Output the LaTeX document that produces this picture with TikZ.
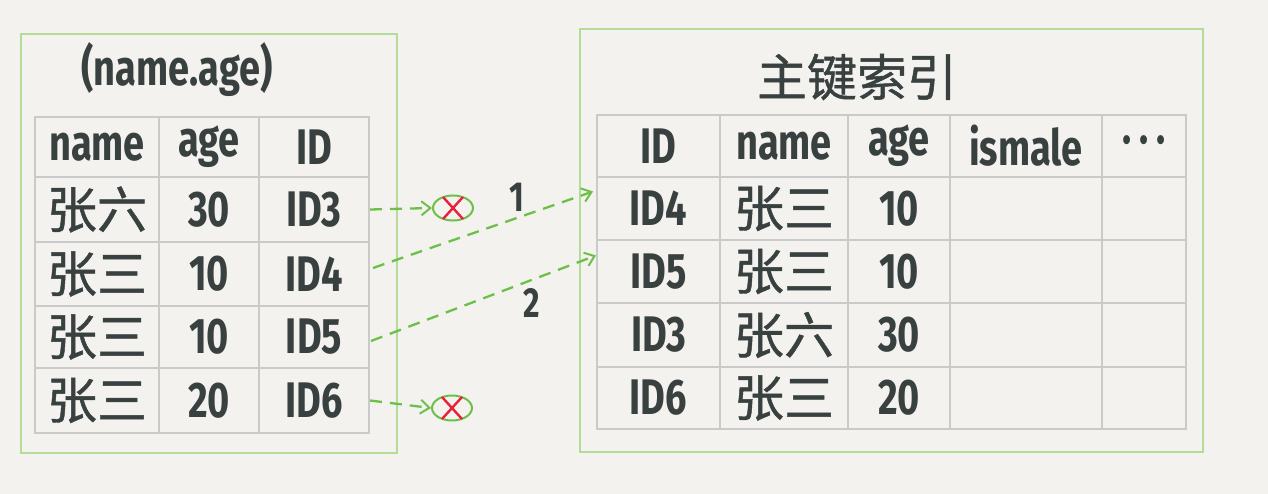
\documentclass[tikz,border=0pt]{standalone}
\usepackage{fontspec}
\setmainfont{Fira Sans}[FakeStretch=0.76]
\newfontfamily\cjkfam{Noto Sans CJK SC}[FakeBold=0.9]
\newcommand{\cjk}{\cjkfam\mdseries}
\usetikzlibrary{shapes.geometric,arrows.meta,calc}
\definecolor{bg}{HTML}{F3F2EE}
\definecolor{boxgreen}{HTML}{B3DC98}
\definecolor{linegreen}{HTML}{6CC04A}
\definecolor{gridgray}{HTML}{CACACA}
\definecolor{ink}{HTML}{384040}
\definecolor{xred}{HTML}{E8203A}
\begin{document}
\begin{tikzpicture}[x=1pt,y=-1pt,
  outerbox/.style={draw=boxgreen,line width=2pt},
  cellbox/.style={draw=gridgray,line width=2pt,inner sep=0pt,text=ink,font=\fontsize{50}{54}\selectfont\bfseries},
  titletext/.style={text=ink,font=\fontsize{50}{54}\selectfont\bfseries},
  flow/.style={draw=linegreen,line width=2.3pt,dash pattern=on 12pt off 8pt,-{Straight Barb[length=9pt,width=14pt,line width=2pt]}},
  dropmark/.style={ellipse,draw=linegreen,line width=2pt,minimum width=40pt,minimum height=25pt,inner sep=0pt},
  cross/.style={draw=xred,line width=2.4pt},
  numlabel/.style={text=ink,font=\fontsize{42}{46}\selectfont\bfseries}]
\useasboundingbox[fill=bg] (0,0) rectangle (1268,494);

% left box
\node[outerbox,minimum width=376pt,minimum height=419pt,inner sep=0pt] (leftbox) at (209,243.5) {};
\node[titletext] (lefttitle) at (177,70) {(name.age)};
\foreach \r/\yc/\h/\a/\b/\c in {0/147/60/name/age/ID,
    1/209.5/65/{\cjk 张六}/30/ID3,
    2/274/64/{\cjk 张三}/10/ID4,
    3/337/62/{\cjk 张三}/10/ID5,
    4/400.5/65/{\cjk 张三}/20/ID6}{
  \node[cellbox,minimum width=124pt,minimum height=\h pt] (L-\r-1) at (97,\yc) {\a};
  \node[cellbox,minimum width=100pt,minimum height=\h pt] (L-\r-2) at (209,\yc) {\b};
  \node[cellbox,minimum width=110pt,minimum height=\h pt] (L-\r-3) at (314,\yc) {\c};
}

% right box
\node[outerbox,minimum width=623pt,minimum height=422pt,inner sep=0pt] (rightbox) at (891.5,240.5) {};
\node[titletext] (righttitle) at (857,77) {\cjk 主键索引};
\foreach \r/\yc/\h/\a/\b/\c/\d/\e in {0/146/62/ID/name/age/ismale/{·\,·\,·},
    1/208.5/63/ID4/{\cjk 张三}/10//,
    2/271.5/63/ID5/{\cjk 张三}/10//,
    3/335/64/ID3/{\cjk 张六}/30//,
    4/398/62/ID6/{\cjk 张三}/20//}{
  \node[cellbox,minimum width=123pt,minimum height=\h pt] (R-\r-1) at (658.5,\yc) {\a};
  \node[cellbox,minimum width=128pt,minimum height=\h pt] (R-\r-2) at (784,\yc) {\b};
  \node[cellbox,minimum width=102pt,minimum height=\h pt] (R-\r-3) at (899,\yc) {\c};
  \node[cellbox,minimum width=152pt,minimum height=\h pt] (R-\r-4) at (1026,\yc) {\d};
  \node[cellbox,minimum width=84pt,minimum height=\h pt] (R-\r-5) at (1144,\yc) {\e};
}

% dropped entries
\node[dropmark] (x1) at (453,208) {};
\node[dropmark] (x2) at (452,408) {};
\foreach \m in {x1,x2}{
  \draw[cross] ($(\m.center)+(-10,-11)$) -- ($(\m.center)+(10,11)$);
  \draw[cross] ($(\m.center)+(10,-11)$) -- ($(\m.center)+(-10,11)$);
}
\draw[flow] (L-1-3.east) -- (x1.west);
\draw[flow] (L-4-3.east) -- (x2.west);

% lookups back to the primary key index
\draw[flow] ($(L-2-3.east)+(3,-6)$) -- ($(R-1-1.west)+(-3,-17)$);
\draw[flow] ($(L-3-3.east)+(1,4)$) -- ($(R-2-1.west)+(0,-16)$);
\node[numlabel] (n1) at (517,197) {1};
\node[numlabel] (n2) at (532,303) {2};
\end{tikzpicture}
\end{document}
